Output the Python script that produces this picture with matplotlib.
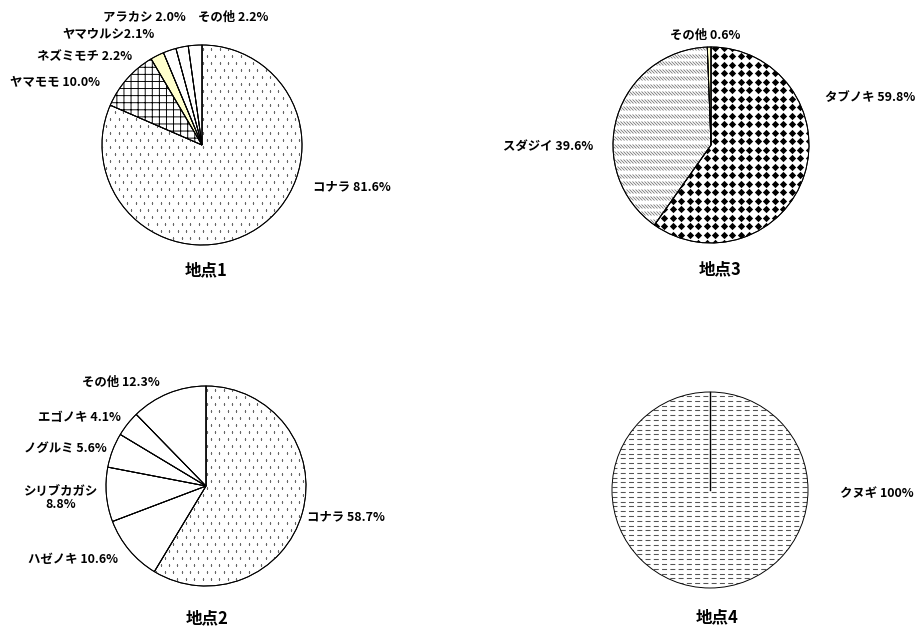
import numpy as np
import matplotlib
matplotlib.use("Agg")
import matplotlib.pyplot as plt
from matplotlib.patches import Wedge, Circle
from matplotlib.path import Path

plt.rcParams['font.family'] = ['Noto Sans CJK JP', 'DejaVu Sans']
plt.rcParams['hatch.linewidth'] = 0.8
plt.rcParams['lines.scale_dashes'] = False

# ---------------- data ----------------
site1_species = ["コナラ", "ヤマモモ", "ネズミモチ", "ヤマウルシ", "アラカシ", "その他"]
site1_values = [81.6, 10.0, 2.2, 2.1, 2.0, 2.2]
site1_labels = ["コナラ 81.6%", "ヤマモモ 10.0%", "ネズミモチ 2.2%",
                "ヤマウルシ2.1%", "アラカシ 2.0%", "その他 2.2%"]

site2_species = ["コナラ", "ハゼノキ", "シリブカガシ", "ノグルミ", "エゴノキ", "その他"]
site2_values = [58.7, 10.6, 8.8, 5.6, 4.1, 12.3]
site2_labels = ["コナラ 58.7%", "ハゼノキ 10.6%", "シリブカガシ\n8.8%",
                "ノグルミ 5.6%", "エゴノキ 4.1%", "その他 12.3%"]

site3_species = ["タブノキ", "スダジイ", "その他"]
site3_values = [59.8, 39.6, 0.6]
site3_labels = ["タブノキ 59.8%", "スダジイ 39.6%", "その他 0.6%"]

site4_species = ["クヌギ"]
site4_values = [100]
site4_labels = ["クヌギ 100%"]

titles = ["地点1", "地点2", "地点3", "地点4"]

# ---------------- layout ----------------
W, H = 917, 627
DPI = 85
fig = plt.figure(figsize=(W / DPI, H / DPI), dpi=DPI)
ax = fig.add_axes([0, 0, 1, 1])

def Y(y):
    return H - y

LABEL_FS = 10.5
TITLE_FS = 14
YELLOW = "#FFFFCC"

def draw_pie(values, cx, cy, r, fills, hatches):
    wedges, _ = ax.pie(values, center=(cx, Y(cy)), radius=r, startangle=90,
                       counterclock=False, colors=fills,
                       wedgeprops=dict(edgecolor="black", linewidth=0.8))
    for w, h in zip(wedges, hatches):
        if h:
            w.set_hatch(h)
    return wedges

def outline(w):
    ax.add_patch(Wedge(w.center, w.r, w.theta1, w.theta2, fill=False,
                       edgecolor="black", linewidth=0.8, zorder=3))

def texture(wedge, cx, cy, r, sx, sy, stagger=False, **kw):
    gx, gy = np.meshgrid(np.arange(cx - r, cx + r + sx, sx),
                         np.arange(cy - r, cy + r + sy, sy))
    if stagger:
        gx = gx + (np.arange(gx.shape[0]) % 2)[:, None] * sx / 2
    art, = ax.plot(gx.ravel(), gy.ravel(), linestyle="none", zorder=2, **kw)
    art.set_clip_path(wedge)
    return art

def dots(wedge, cx, cy, r):
    texture(wedge, cx, cy, r, 8.4, 7.0, stagger=True, marker="s",
            markersize=1.1, markerfacecolor="#666666", markeredgewidth=0)

def put_labels(labels, positions):
    for lab, (x, y, ha) in zip(labels, positions):
        ax.text(x, Y(y), lab, ha=ha, va="center", fontsize=LABEL_FS,
                fontweight="bold", linespacing=1.0, zorder=5)

# ---- site 1 ----
c1 = (202, 145, 100)
w1 = draw_pie(site1_values, *c1,
              fills=["white", "white", YELLOW, "white", "white", "white"],
              hatches=[None, "++", None, None, None, None])
dots(w1[0], c1[0], Y(c1[1]), c1[2])
for w in w1:
    outline(w)
put_labels(site1_labels, [(313, 187, "left"), (10, 83, "left"), (37, 57, "left"),
                          (62, 35, "left"), (103, 17, "left"), (198, 17, "left")])
ax.text(206, Y(270), titles[0], ha="center", va="center", fontsize=TITLE_FS, fontweight="bold")

# ---- site 2 ----
c2 = (206, 486, 100)
w2 = draw_pie(site2_values, *c2, fills=["white"] * 6, hatches=[None] * 6)
dots(w2[0], c2[0], Y(c2[1]), c2[2])
for w in w2:
    outline(w)
put_labels(site2_labels, [(307, 517, "left"), (28, 560, "left"), (61, 498, "center"),
                          (24, 448, "left"), (38, 418, "left"), (82, 382, "left")])
ax.text(207, Y(618), titles[1], ha="center", va="center", fontsize=TITLE_FS, fontweight="bold")

# ---- site 3 ----
c3 = (711, 145, 98)
w3 = draw_pie(site3_values, *c3, fills=["white", "white", YELLOW],
              hatches=[None, None, None])
cx, cy, r = c3[0], Y(c3[1]), c3[2]
diamond = Path([(0, 1), (1, 0), (0, -1), (-1, 0), (0, 1)])
texture(w3[0], cx, cy, r, 8.5, 8.5, marker=diamond, markersize=6.2,
        markerfacecolor="black", markeredgewidth=0)
slash = Path([(-1, 1), (1, -1)])
texture(w3[1], cx, cy, r, 3.0, 7.5, marker=slash, markersize=3.4,
        markeredgecolor="#777777", markeredgewidth=0.7)
for w in w3:
    outline(w)
put_labels(site3_labels, [(825, 98, "left"), (503, 146, "left"), (670, 35, "left")])
ax.text(720, Y(269), titles[2], ha="center", va="center", fontsize=TITLE_FS, fontweight="bold")

# ---- site 4 ----
c4 = (710, 490, 98)
w4 = draw_pie(site4_values, *c4, fills=["white"], hatches=[None])
cx, cy, r = c4[0], Y(c4[1]), c4[2]
w4[0].set_edgecolor("none")
rows = np.arange(cy - r, cy + r + 4.8, 4.8)
hl = ax.hlines(rows, cx - r, cx + r, colors="#555555", linewidth=0.9,
               linestyles=[(0, (4.2, 2.8))], zorder=2)
hl.set_clip_path(w4[0])
ax.add_patch(Circle((cx, cy), r, fill=False, edgecolor="black", linewidth=0.8, zorder=3))
ax.plot([cx, cx], [cy, cy + r], color="black", linewidth=1.2, zorder=3)
put_labels(site4_labels, [(840, 494, "left")])
ax.text(717, Y(617), titles[3], ha="center", va="center", fontsize=TITLE_FS, fontweight="bold")

ax.set_xlim(0, W)
ax.set_ylim(0, H)
ax.set_aspect("auto")
ax.axis("off")
fig.savefig("out.png", dpi=DPI, facecolor="white")
